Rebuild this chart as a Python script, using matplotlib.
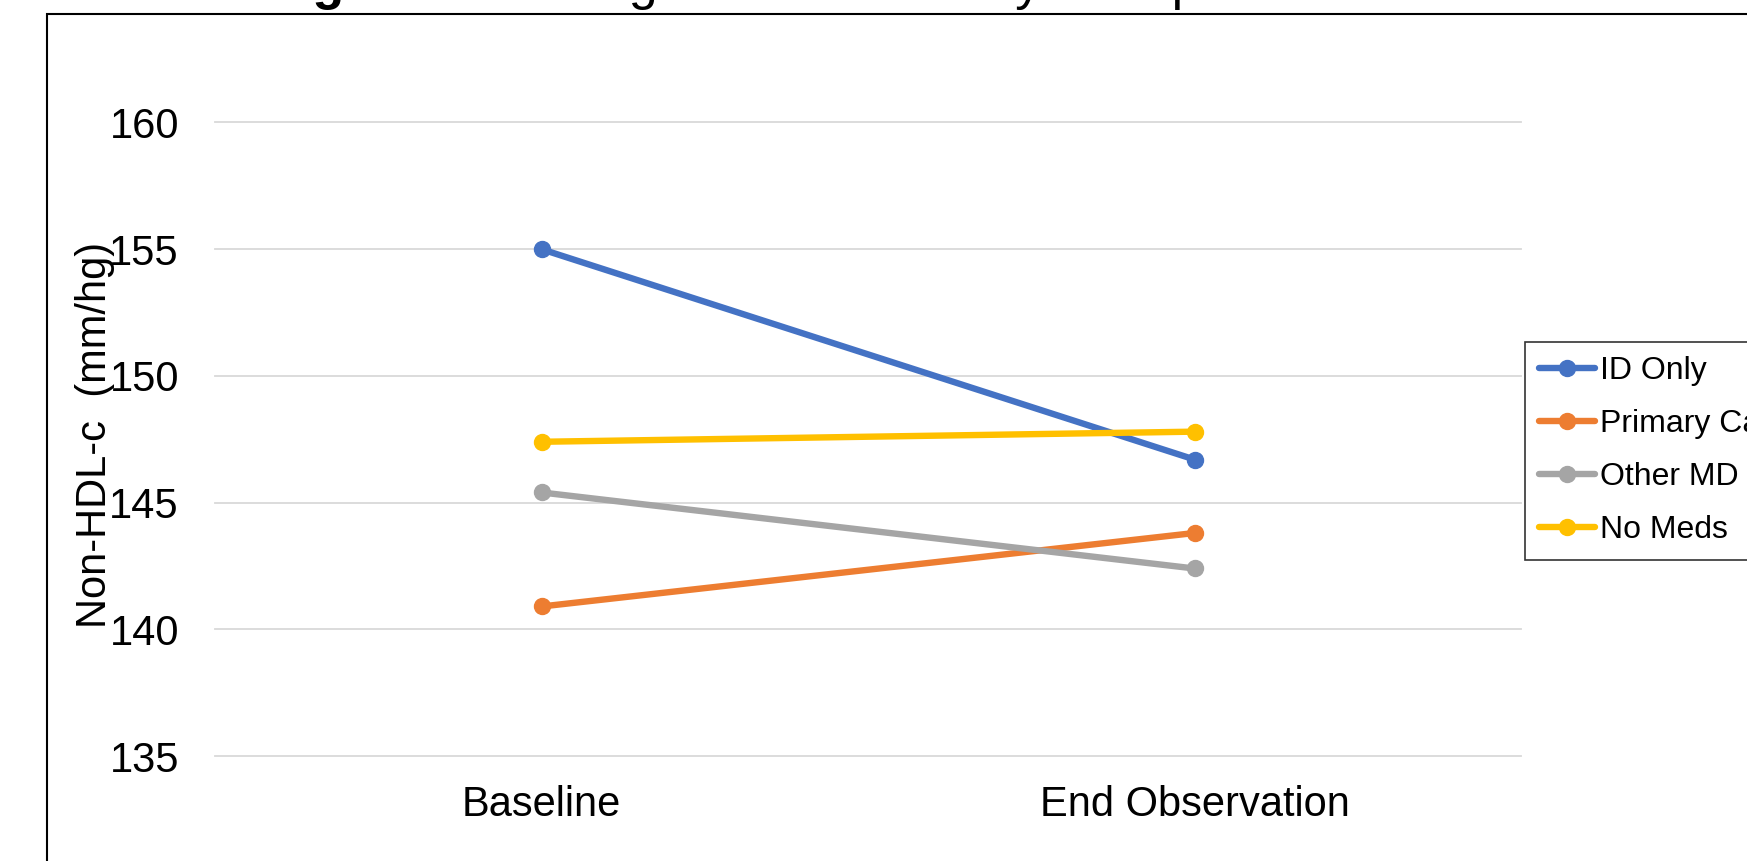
import matplotlib
matplotlib.use("Agg")
import matplotlib.pyplot as plt
from matplotlib.patches import Rectangle

plt.rcParams['font.family'] = ['Liberation Sans', 'DejaVu Sans']

# data
categories = ["Baseline", "End Observation"]
groups = ["ID Only", "Primary Care", "Other MD", "No Meds"]
id_only = [155.0, 146.7]
primary_care = [140.9, 143.8]
other_md = [145.4, 142.4]
no_meds = [147.4, 147.8]
series = [id_only, primary_care, other_md, no_meds]
colors = ["#4472C4", "#ED7D31", "#A5A5A5", "#FFC000"]
yticks = [135, 140, 145, 150, 155, 160]

W, H = 1747, 861
fig = plt.figure(figsize=(W / 100, H / 100), dpi=100)
ax = fig.add_axes([215 / W, 1 - 756 / H, (1521 - 215) / W, (756 - 122.5) / H])

x = list(range(len(categories)))
for name, vals, c in zip(groups, series, colors):
    ax.plot(x, vals, color=c, lw=4.6, marker='o', ms=11.5, label=name,
            solid_capstyle='round', clip_on=False)

ax.set_xlim(-0.5, 1.5)
ax.set_ylim(135, 160)
ax.set_yticks(yticks)
ax.set_xticks(x)
ax.set_xticklabels(categories)
ax.grid(axis='y', color='#D9D9D9', lw=1.3)
for gl in ax.get_ygridlines():
    gl.set_clip_on(False)
ax.set_axisbelow(True)
for s in ax.spines.values():
    s.set_visible(False)
ax.tick_params(axis='y', length=0, pad=26, labelsize=30)
ax.tick_params(axis='x', length=0, pad=21, labelsize=30)

# y label sits close to the tick labels, like the original
fig.text(95 / W, 1 - 435 / H, "Non-HDL-c  (mm/hg)", rotation=90,
         ha='center', va='center', fontsize=30)

# title is cut off at the top of the picture, only descenders remain
fig.text(266 / W, 1 + 1 / H, "Figure 2.", fontsize=37.5, fontweight='bold',
         ha='left', va='baseline')
fig.text(266 / W + 0.136, 1 + 1 / H, "Change in Non-HDL by Group",
         fontsize=37.5, ha='left', va='baseline')

leg = fig.legend(loc='upper left', bbox_to_anchor=(1525 / W, 1 - 342 / H),
                 fontsize=23, frameon=True, fancybox=False, borderaxespad=0,
                 handlelength=1.75, handletextpad=0.15, labelspacing=0.72,
                 borderpad=0.45)
leg.get_frame().set_edgecolor('black')
leg.get_frame().set_linewidth(1.2)

# chart area border, runs off the right and bottom
fig.add_artist(Rectangle((47 / W, -0.5), 2, 0.5 + 1 - 14 / H,
                         transform=fig.transFigure, fill=False,
                         edgecolor='black', lw=1.5))

fig.savefig("out.png", dpi=100)
